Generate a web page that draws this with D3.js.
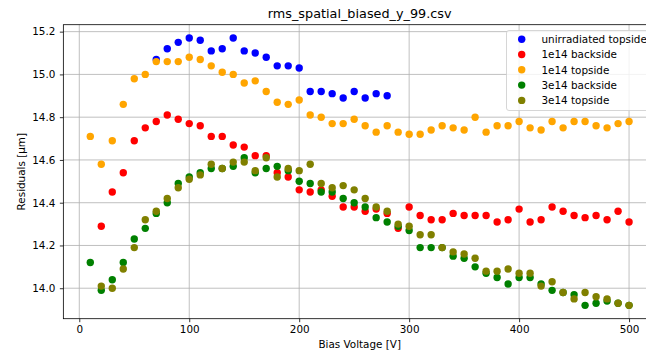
<!DOCTYPE html>
<html>
<head>
<meta charset="utf-8">
<script src="https://cdn.jsdelivr.net/npm/d3@7"></script>
<style>
  body { margin: 0; background: #fff; }
  svg { font-family: "DejaVu Sans", sans-serif; }
</style>
</head>
<body>
<div id="chart"></div>
<script>
// bias voltages (V)
var voltages = [10, 20, 30, 40, 50, 60, 70, 80, 90, 100,
  110, 120, 130, 140, 150, 160, 170, 180, 190, 200,
  210, 220, 230, 240, 250, 260, 270, 280, 290, 300,
  310, 320, 330, 340, 350, 360, 370, 380, 390, 400,
  410, 420, 430, 440, 450, 460, 470, 480, 490, 500];

var unirradiatedTop = [null, null, null, null, null, null, 15.07, 15.12, 15.15, 15.17,
  15.16, 15.11, 15.12, 15.17, 15.11, 15.10, 15.08, 15.04, 15.04, 15.03,
  14.92, 14.92, 14.91, 14.89, 14.92, 14.89, 14.91, 14.90, null, null,
  null, null, null, null, null, null, null, null, null, null,
  null, null, null, null, null, null, null, null, null, null];

var back1e14 = [null, 14.29, 14.45, 14.54, 14.69, 14.75, 14.78, 14.81, 14.79, 14.77,
  14.76, 14.71, 14.71, 14.67, 14.66, 14.62, 14.62, 14.54, 14.52, 14.46,
  14.45, 14.46, 14.43, 14.38, 14.38, 14.36, 14.37, 14.35, 14.28, 14.38,
  14.34, 14.32, 14.32, 14.35, 14.34, 14.34, 14.34, 14.31, 14.32, 14.37,
  14.31, 14.32, 14.38, 14.36, 14.34, 14.33, 14.34, 14.32, 14.36, 14.31];

var top1e14 = [14.71, 14.58, 14.69, 14.86, 14.98, 15.00, 15.06, 15.06, 15.06, 15.08,
  15.07, 15.04, 15.01, 15.00, 14.96, 14.97, 14.92, 14.87, 14.86, 14.88,
  14.81, 14.80, 14.77, 14.77, 14.79, 14.76, 14.73, 14.76, 14.73, 14.72,
  14.72, 14.74, 14.76, 14.75, 14.74, 14.80, 14.73, 14.76, 14.76, 14.78,
  14.75, 14.74, 14.78, 14.75, 14.78, 14.78, 14.76, 14.75, 14.77, 14.78];

var back3e14 = [14.12, 13.99, 14.04, 14.12, 14.23, 14.28, 14.35, 14.40, 14.49, 14.52,
  14.54, 14.56, 14.56, 14.57, 14.61, 14.54, 14.56, 14.57, 14.55, 14.50,
  14.49, 14.45, 14.45, 14.42, 14.40, 14.38, 14.33, 14.31, 14.29, 14.27,
  14.19, 14.19, 14.19, 14.15, 14.14, 14.10, 14.07, 14.05, 14.02, 14.05,
  14.05, 14.02, 13.99, 13.98, 13.97, 13.92, 13.93, 13.94, 13.93, 13.92];

var top3e14 = [null, 14.01, 14.00, 14.09, 14.19, 14.32, 14.36, 14.42, 14.47, 14.51,
  14.53, 14.58, 14.56, 14.59, 14.59, 14.55, 14.61, 14.52, 14.56, 14.55,
  14.58, 14.49, 14.47, 14.48, 14.46, 14.42, 14.38, 14.36, 14.30, 14.29,
  14.25, 14.25, 14.19, 14.17, 14.16, 14.14, 14.08, 14.08, 14.09, 14.07,
  14.07, 14.01, 14.03, 13.98, 13.95, 13.98, 13.96, 13.95, 13.93, 13.92];

var seriesNames = ["unirradiated topside", "1e14 backside", "1e14 topside", "3e14 backside", "3e14 topside"];
var seriesValues = [unirradiatedTop, back1e14, top1e14, back3e14, top3e14];
var seriesColors = ["blue", "red", "orange", "green", "olive"];

var xTicks = [0, 100, 200, 300, 400, 500];
var yTicks = [14.0, 14.2, 14.4, 14.6, 14.8, 15.0, 15.2];

var W = 646, H = 353;
var pL = 63.35, pR = 656, pT = 24.7, pB = 318.7;
var fs = 10.4;

var svg = d3.select("#chart").append("svg")
  .attr("width", W).attr("height", H);

var x = d3.scaleLinear().domain([-14.5, 524.5]).range([pL, pR]);
var y = d3.scaleLinear().domain([13.8575, 15.2325]).range([pB, pT]);

svg.append("defs").append("clipPath").attr("id", "clip")
  .append("rect").attr("x", pL).attr("y", pT)
  .attr("width", pR - pL).attr("height", pB - pT);

// grid
var grid = svg.append("g");
grid.selectAll(".vg").data(xTicks).enter().append("line")
  .attr("x1", d => x(d)).attr("x2", d => x(d))
  .attr("y1", pT).attr("y2", pB)
  .attr("stroke", "#b0b0b0").attr("stroke-width", 0.8);
grid.selectAll(".hg").data(yTicks).enter().append("line")
  .attr("x1", pL).attr("x2", pR)
  .attr("y1", d => y(d)).attr("y2", d => y(d))
  .attr("stroke", "#b0b0b0").attr("stroke-width", 0.8);

// points
var plot = svg.append("g").attr("clip-path", "url(#clip)");
seriesValues.forEach(function(vals, k) {
  var pts = voltages.map((v, i) => ({v: v, r: vals[i]})).filter(d => d.r !== null);
  plot.append("g").selectAll("circle").data(pts).enter().append("circle")
    .attr("cx", d => x(d.v))
    .attr("cy", d => y(d.r))
    .attr("r", 3.7)
    .attr("fill", seriesColors[k]);
});

// axes
var xAxis = svg.append("g")
  .attr("transform", "translate(0," + pB + ")")
  .call(d3.axisBottom(x).tickValues(xTicks).tickFormat(d3.format("d")).tickSize(3.5).tickPadding(3.5));
var yAxis = svg.append("g")
  .attr("transform", "translate(" + pL + ",0)")
  .call(d3.axisLeft(y).tickValues(yTicks).tickFormat(d3.format(".1f")).tickSize(3.5).tickPadding(4.5));

[xAxis, yAxis].forEach(function(a) {
  a.select(".domain").remove();
  a.selectAll("line").attr("stroke", "#000").attr("stroke-width", 0.8);
  a.selectAll("text").attr("font-size", fs).attr("fill", "#000")
    .attr("font-family", "DejaVu Sans, sans-serif");
});

// frame
svg.append("rect")
  .attr("x", pL).attr("y", pT)
  .attr("width", pR - pL).attr("height", pB - pT)
  .attr("fill", "none").attr("stroke", "#000").attr("stroke-width", 0.8);

// labels
svg.append("text")
  .attr("x", (pL + pR) / 2).attr("y", 18.3)
  .attr("text-anchor", "middle").attr("font-size", 12.8)
  .text("rms_spatial_biased_y_99.csv");

svg.append("text")
  .attr("x", (pL + pR) / 2).attr("y", 348)
  .attr("text-anchor", "middle").attr("font-size", fs)
  .text("Bias Voltage [V]");

svg.append("text")
  .attr("transform", "translate(25," + ((pT + pB) / 2) + ") rotate(-90)")
  .attr("text-anchor", "middle").attr("font-size", fs)
  .text("Residuals [µm]");

// legend
var lg = svg.append("g");
lg.append("rect")
  .attr("x", 506.5).attr("y", 30.5)
  .attr("width", 144.5).attr("height", 80)
  .attr("rx", 2.5)
  .attr("fill", "#fff").attr("fill-opacity", 0.8)
  .attr("stroke", "#cccccc").attr("stroke-width", 0.8);

var rows = lg.selectAll(".row").data(seriesNames).enter().append("g")
  .attr("transform", (d, i) => "translate(0," + (39.2 + i * 15.3) + ")");
rows.append("circle")
  .attr("cx", 521.7).attr("cy", 0).attr("r", 3.7)
  .attr("fill", (d, i) => seriesColors[i]);
rows.append("text")
  .attr("x", 541.5).attr("y", 3.7)
  .attr("font-size", fs)
  .text(d => d);
</script>
</body>
</html>
